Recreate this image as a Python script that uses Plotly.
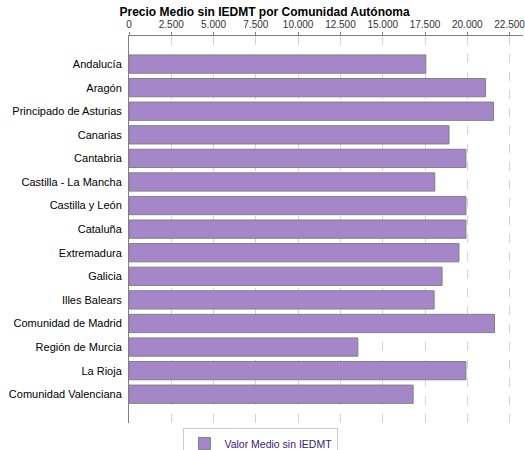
import plotly.graph_objects as go

comunidades = ["Andalucía", "Aragón", "Principado de Asturias", "Canarias", "Cantabria",
               "Castilla - La Mancha", "Castilla y León", "Cataluña", "Extremadura", "Galicia",
               "Illes Balears", "Comunidad de Madrid", "Región de Murcia", "La Rioja",
               "Comunidad Valenciana"]
valor_medio = [17550, 21080, 21550, 18920, 19920,
               18080, 19920, 19920, 19510, 18510,
               18040, 21610, 13530, 19920, 16800]

fig = go.Figure()
fig.add_trace(go.Bar(
    x=valor_medio,
    y=comunidades,
    orientation="h",
    name="Valor Medio sin IEDMT",
    marker=dict(color="#a587c9", line=dict(color="#808080", width=1)),
    width=0.775,
))

fig.update_layout(
    width=525, height=450,
    margin=dict(l=129, r=0, t=36, b=27),
    paper_bgcolor="white", plot_bgcolor="white",
    separators=",.",
    title=dict(text="<b>Precio Medio sin IEDMT por Comunidad Autónoma</b>",
               x=0.504, xref="container", xanchor="center",
               y=0.973, yref="container", yanchor="middle",
               font=dict(family="Liberation Sans", size=12, color="black")),
    showlegend=True,
    legend=dict(orientation="h", xref="container", x=0.497, xanchor="center",
                yref="container", y=0.049, yanchor="top",
                bordercolor="#cccccc", borderwidth=1, itemwidth=30,
                font=dict(family="Liberation Sans", size=10.5, color="#3c1a78")),
)

fig.update_xaxes(side="top", range=[0, 23294], dtick=2500, tickformat=",d",
                 showgrid=True, gridcolor="#d3d3d3", griddash="dash", gridwidth=1,
                 showline=True, linecolor="#808080", linewidth=1,
                 ticks="outside", ticklen=3, tickcolor="#808080",
                 ticklabeloverflow="allow",
                 tickfont=dict(family="Liberation Sans", size=10, color="#333333"),
                 zeroline=False)
fig.update_yaxes(range=[15.22, -1.19], categoryorder="array", categoryarray=comunidades,
                 showline=True, linecolor="#808080", linewidth=1,
                 ticks="", showgrid=False, ticklabelstandoff=4,
                 tickfont=dict(family="Liberation Sans", size=11, color="black"))

# quitar el margen por defecto del body para que la figura empiece en (0, 0)
fig.write_html("out.html", config={"displayModeBar": False},
               post_script="document.body.style.margin = '0';")
